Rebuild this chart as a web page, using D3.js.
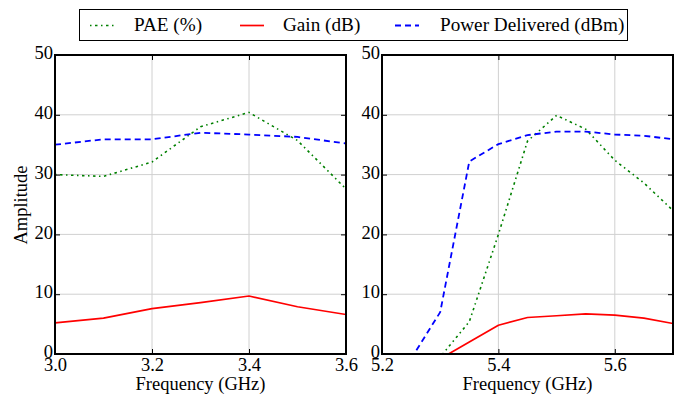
<!DOCTYPE html>
<html>
<head>
<meta charset="utf-8">
<script src="https://cdn.jsdelivr.net/npm/d3@7"></script>
<style>
  html, body { margin: 0; padding: 0; background: #fff; }
  svg { display: block; }
</style>
</head>
<body>
<svg id="chart" width="681" height="397"></svg>
<script>
// Band 1 (3.0–3.6 GHz)
const freqLow = [3.0, 3.1, 3.2, 3.3, 3.4, 3.5, 3.6];
const paeLow = [30.0, 29.7, 32.1, 38.0, 40.4, 35.7, 27.6];
const gainLow = [5.2, 6.0, 7.6, 8.6, 9.7, 7.9, 6.6];
const powerLow = [35.0, 35.9, 35.9, 37.0, 36.7, 36.3, 35.2];

// Band 2 (5.2–5.7 GHz)
const freqHigh = [5.25, 5.3, 5.35, 5.4, 5.45, 5.5, 5.55, 5.6, 5.65, 5.7];
const paeHigh = [-6.5, -0.5, 5.4, 20.0, 35.6, 39.9, 37.6, 32.4, 28.6, 24.0];
const gainHigh = [-3.5, -0.8, 2.0, 4.8, 6.1, 6.4, 6.7, 6.5, 6.0, 5.1];
const powerHigh = [-0.8, 7.0, 32.2, 35.1, 36.6, 37.2, 37.2, 36.7, 36.5, 35.9];

const yTicks = [0, 10, 20, 30, 40, 50];
const xTicksLow = [3.0, 3.2, 3.4, 3.6];
const xTicksHigh = [5.2, 5.4, 5.6];

const seriesNames = ["PAE (%)", "Gain (dB)", "Power Delivered (dBm)"];

const FONT = "'Liberation Serif', 'Times New Roman', serif";
const FS = "18.5px";
const LEGEND_FS = "19.2px";

const styles = {
  pae:   { color: "#008000", width: 1.6, dash: "1.5,3.5,2.5,3.5" },
  gain:  { color: "#ff0000", width: 1.7, dash: null },
  power: { color: "#0000ff", width: 1.8, dash: "6,4" }
};

const svg = d3.select("#chart");
const plotTop = 55, plotBottom = 354;
const y = d3.scaleLinear().domain([0, 50]).range([plotBottom, plotTop]);

const panels = [
  { left: 55, right: 346, domain: [3.0, 3.6], ticks: xTicksLow,
    x: freqLow, pae: paeLow, gain: gainLow, power: powerLow },
  { left: 382, right: 673, domain: [5.2, 5.7], ticks: xTicksHigh,
    x: freqHigh, pae: paeHigh, gain: gainHigh, power: powerHigh }
];

const styleText = (sel, size = FS) => sel.style("font-family", FONT).style("font-size", size).attr("fill", "#000");

panels.forEach((p, i) => {
  const x = d3.scaleLinear().domain(p.domain).range([p.left, p.right]);
  const g = svg.append("g");
  const clipId = "clip" + i;
  svg.append("clipPath").attr("id", clipId)
    .append("rect").attr("x", p.left).attr("y", plotTop)
    .attr("width", p.right - p.left).attr("height", plotBottom - plotTop);

  // grid
  g.append("g").selectAll("line").data(yTicks.slice(1, -1)).join("line")
    .attr("x1", p.left).attr("x2", p.right)
    .attr("y1", d => y(d)).attr("y2", d => y(d))
    .attr("stroke", "#d0d0d0").attr("stroke-width", 1);
  g.append("g").selectAll("line").data(p.ticks.filter(t => t > p.domain[0] + 1e-9 && t < p.domain[1] - 1e-9)).join("line")
    .attr("x1", d => x(d)).attr("x2", d => x(d))
    .attr("y1", plotTop).attr("y2", plotBottom)
    .attr("stroke", "#d0d0d0").attr("stroke-width", 1);

  // series
  const lineGen = vals => d3.line().x((d, j) => x(p.x[j])).y(d => y(d))(vals);
  const plots = g.append("g").attr("clip-path", `url(#${clipId})`);
  [["pae", p.pae], ["gain", p.gain], ["power", p.power]].forEach(([k, vals]) => {
    const s = styles[k];
    plots.append("path").attr("d", lineGen(vals))
      .attr("fill", "none").attr("stroke", s.color)
      .attr("stroke-width", s.width)
      .attr("stroke-dasharray", s.dash)
      .attr("stroke-linejoin", "round");
  });

  // axes with inward ticks on all sides
  const axB = d3.axisBottom(x).tickValues(p.ticks).tickSize(-5).tickPadding(4).tickFormat(d3.format(".1f"));
  const axT = d3.axisTop(x).tickValues(p.ticks).tickSize(-5).tickFormat("");
  const axL = d3.axisLeft(y).tickValues(yTicks).tickSize(-5).tickPadding(2).tickFormat(d3.format("d"));
  const axR = d3.axisRight(y).tickValues(yTicks).tickSize(-5).tickFormat("");

  const styleAxis = sel => {
    sel.select(".domain").remove();
    sel.selectAll(".tick line").attr("stroke", "#000").attr("stroke-width", 1);
    sel.selectAll("text").call(styleText);
  };
  g.append("g").attr("transform", `translate(0,${plotBottom})`).call(axB).call(styleAxis);
  g.append("g").attr("transform", `translate(0,${plotTop})`).call(axT).call(styleAxis);
  g.append("g").attr("transform", `translate(${p.left},0)`).call(axL).call(styleAxis)
    .selectAll("text").attr("dy", "0.2em");
  g.append("g").attr("transform", `translate(${p.right},0)`).call(axR).call(styleAxis);

  // frame
  g.append("rect").attr("x", p.left).attr("y", plotTop)
    .attr("width", p.right - p.left).attr("height", plotBottom - plotTop)
    .attr("fill", "none").attr("stroke", "#000").attr("stroke-width", 2);

  g.append("text").attr("x", (p.left + p.right) / 2).attr("y", 390)
    .attr("text-anchor", "middle").call(styleText)
    .text("Frequency (GHz)");
});

svg.append("text")
  .attr("transform", "translate(27,205) rotate(-90)")
  .attr("text-anchor", "middle").call(styleText)
  .text("Amplitude");

// legend
const legend = svg.append("g");
legend.append("rect").attr("x", 79.5).attr("y", 9.5).attr("width", 548).attr("height", 31)
  .attr("fill", "#fff").attr("stroke", "#000").attr("stroke-width", 1);
const legItems = [
  { key: "pae", x0: 90, tx: 134 },
  { key: "gain", x0: 240, tx: 283 },
  { key: "power", x0: 395, tx: 440 }
];
legItems.forEach((it, i) => {
  const s = styles[it.key];
  legend.append("line").attr("x1", it.x0).attr("x2", it.x0 + 24)
    .attr("y1", 25.5).attr("y2", 25.5)
    .attr("stroke", s.color).attr("stroke-width", s.width)
    .attr("stroke-dasharray", s.dash);
  legend.append("text").attr("x", it.tx).attr("y", 30.5)
    .call(styleText, LEGEND_FS).text(seriesNames[i]);
});
</script>
</body>
</html>
